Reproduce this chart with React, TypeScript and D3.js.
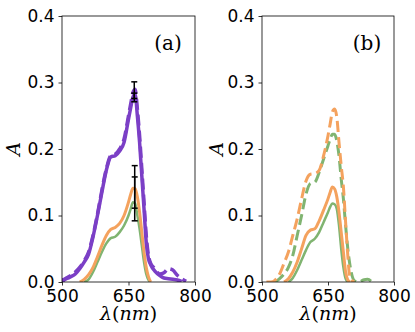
import { useEffect, useRef } from 'react';
import * as d3 from 'd3';

// wavelength grid (nm) shared by every series
const wavelengths = [
  500, 510, 520, 530, 540, 550, 560, 570, 580, 590, 600, 610, 620, 630, 640, 650,
  655, 660, 665, 670, 675, 680, 685, 690, 695, 700, 710, 720, 730, 740, 750, 760,
  770, 780, 790,
];

type V = number | null;

// panel (a)
const aPurpleSolid: V[] = [
  0.003, 0.005, 0.008, 0.012, 0.02, 0.03, 0.042, 0.068, 0.1, 0.135, 0.168, 0.188, 0.19, 0.197, 0.21, 0.245,
  0.262, 0.278, 0.282, 0.25, 0.21, 0.16, 0.11, 0.06, 0.035, 0.026, 0.016, 0.01, 0.006, 0.005, 0.004, 0.003,
  0.001, null, null,
];
const aPurpleDashed: V[] = [
  0.0, 0.006, 0.01, 0.015, 0.022, 0.032, 0.045, 0.07, 0.102, 0.138, 0.17, 0.19, 0.192, 0.2, 0.215, 0.25,
  0.268, 0.285, 0.29, 0.26, 0.22, 0.17, 0.12, 0.07, 0.04, 0.028, 0.02, 0.012, 0.014, 0.02, 0.018, 0.01,
  0.005, 0.001, null,
];
const aOrange: V[] = [
  null, null, null, null, 0, 0.004, 0.011, 0.022, 0.038, 0.055, 0.07, 0.079, 0.082, 0.088, 0.1, 0.12,
  0.132, 0.141, 0.14, 0.128, 0.105, 0.075, 0.045, 0.022, 0.008, 0, null, null, null, null, null, null,
  null, null, null,
];
const aGreen: V[] = [
  null, null, null, null, null, 0, 0.004, 0.015, 0.03, 0.045, 0.058, 0.066, 0.068, 0.075, 0.085, 0.1,
  0.11, 0.12, 0.118, 0.1, 0.08, 0.055, 0.03, 0.012, 0.003, 0, null, null, null, null, null, null,
  null, null, null,
];

// panel (b)
const bOrangeDashed: V[] = [
  null, 0, 0, 0.003, 0.012, 0.028, 0.045, 0.07, 0.095, 0.125, 0.152, 0.162, 0.163, 0.168, 0.19, 0.22,
  0.238, 0.256, 0.26, 0.248, 0.21, 0.175, 0.143, 0.09, 0.04, 0.005, 0, null, null, null, null, null,
  null, null, null,
];
const bGreenDashed: V[] = [
  null, null, null, 0, 0.005, 0.012, 0.022, 0.04, 0.07, 0.1, 0.132, 0.148, 0.15, 0.165, 0.185, 0.205,
  0.215, 0.222, 0.222, 0.212, 0.19, 0.155, 0.125, 0.085, 0.05, 0.025, 0.002, 0, 0.003, 0.004, 0, null,
  null, null, null,
];
const bOrangeSolid: V[] = [
  null, null, null, null, null, 0, 0.005, 0.015, 0.03, 0.05, 0.07, 0.078, 0.08, 0.092, 0.108, 0.125,
  0.135, 0.143, 0.14, 0.128, 0.105, 0.075, 0.045, 0.015, 0.003, 0, null, null, null, null, null, null,
  null, null, null,
];
const bGreenSolid: V[] = [
  null, null, null, null, null, null, 0, 0.006, 0.018, 0.033, 0.048, 0.06, 0.065, 0.075, 0.09, 0.105,
  0.113, 0.118, 0.117, 0.11, 0.085, 0.05, 0.022, 0.005, 0, null, null, null, null, null, null, null,
  null, null, null,
];

// error bars in panel (a): [wavelength, low, high]
const errorBars: [number, number, number][] = [
  [663, 0.271, 0.301],
  [663, 0.276, 0.284],
  [664, 0.092, 0.175],
  [664, 0.111, 0.158],
];

const xTicks = [500, 650, 800];
const yTicks = [0.0, 0.1, 0.2, 0.3, 0.4];

const PURPLE = '#7b3fc6';
const ORANGE = '#f4a25e';
const GREEN = '#80b471';

const App = () => {
  const svgRef = useRef<SVGSVGElement>(null);

  useEffect(() => {
    const root = d3.select(svgRef.current);
    root.selectAll('*').remove();

    const top = 16;
    const bottom = 282;

    const panels = [
      {
        left: 62, right: 195, label: '(a)', ylabelX: 14,
        series: [
          { v: aGreen, color: GREEN, w: 2.5, dash: null },
          { v: aOrange, color: ORANGE, w: 3, dash: null },
          { v: aPurpleDashed, color: PURPLE, w: 3.5, dash: '11,5' },
          { v: aPurpleSolid, color: PURPLE, w: 3.5, dash: null },
        ],
        bars: errorBars,
      },
      {
        left: 262, right: 394, label: '(b)', ylabelX: 217,
        series: [
          { v: bGreenSolid, color: GREEN, w: 2.5, dash: null },
          { v: bOrangeSolid, color: ORANGE, w: 3, dash: null },
          { v: bGreenDashed, color: GREEN, w: 3, dash: '11,5' },
          { v: bOrangeDashed, color: ORANGE, w: 3, dash: '11,5' },
        ],
        bars: [] as [number, number, number][],
      },
    ];

    panels.forEach((p, pi) => {
      const x = d3.scaleLinear().domain([500, 800]).range([p.left, p.right]);
      const y = d3.scaleLinear().domain([0, 0.4]).range([bottom, top]);
      const g = root.append('g');

      const clipId = `clip${pi}`;
      root.append('clipPath').attr('id', clipId)
        .append('rect')
        .attr('x', p.left).attr('y', top)
        .attr('width', p.right - p.left).attr('height', bottom - top);

      const line = d3.line<[number, V]>()
        .defined(d => d[1] != null)
        .x(d => x(d[0]))
        .y(d => y(d[1] as number))
        .curve(d3.curveMonotoneX);

      const lines = g.append('g').attr('clip-path', `url(#${clipId})`);
      p.series.forEach(s => {
        const pts = wavelengths.map((w, i) => [w, s.v[i]] as [number, V]);
        const path = lines.append('path')
          .datum(pts)
          .attr('fill', 'none')
          .attr('stroke', s.color)
          .attr('stroke-width', s.w)
          .attr('stroke-linejoin', 'round')
          .attr('d', line);
        if (s.dash) path.attr('stroke-dasharray', s.dash);
      });

      // error bars
      p.bars.forEach(([wl, lo, hi]) => {
        const cx = x(wl);
        g.append('line')
          .attr('x1', cx).attr('x2', cx)
          .attr('y1', y(lo)).attr('y2', y(hi))
          .attr('stroke', '#000').attr('stroke-width', 1.5);
        [lo, hi].forEach(v => {
          g.append('line')
            .attr('x1', cx - 3).attr('x2', cx + 3)
            .attr('y1', y(v)).attr('y2', y(v))
            .attr('stroke', '#000').attr('stroke-width', 1.5);
        });
      });

      // axes
      const xAxis = g.append('g')
        .attr('transform', `translate(0,${bottom})`)
        .call(d3.axisBottom(x).tickValues(xTicks).tickSize(3.5).tickPadding(4).tickFormat(d3.format('d')));
      const yAxis = g.append('g')
        .attr('transform', `translate(${p.left},0)`)
        .call(d3.axisLeft(y).tickValues(yTicks).tickSize(3.5).tickPadding(4).tickFormat(d3.format('.1f')));
      [xAxis, yAxis].forEach(a => {
        a.select('.domain').remove();
        a.selectAll('line').attr('stroke', '#000').attr('stroke-width', 0.8);
        a.selectAll('text')
          .attr('fill', '#000')
          .style('font-family', '"DejaVu Sans", sans-serif')
          .style('font-size', '17px');
      });
      xAxis.selectAll('text').attr('y', 0).attr('dy', '1.1em').attr('transform', 'translate(0,1)');

      g.append('rect')
        .attr('x', p.left).attr('y', top)
        .attr('width', p.right - p.left).attr('height', bottom - top)
        .attr('fill', 'none').attr('stroke', '#000').attr('stroke-width', 0.8);

      // panel label
      g.append('text')
        .attr('x', p.right - 27).attr('y', 50)
        .attr('text-anchor', 'middle')
        .style('font-family', '"DejaVu Serif", serif')
        .style('font-size', '20px')
        .text(p.label);

      // x label
      const xl = g.append('text')
        .attr('x', (p.left + p.right) / 2).attr('y', 320)
        .attr('text-anchor', 'middle')
        .style('font-family', '"DejaVu Serif", serif')
        .style('font-size', '19px');
      xl.append('tspan').style('font-style', 'italic').text('λ');
      xl.append('tspan').text('(');
      xl.append('tspan').style('font-style', 'italic').text('nm');
      xl.append('tspan').text(')');

      // y label
      g.append('text')
        .attr('transform', `translate(${p.ylabelX + 6},${(top + bottom) / 2}) rotate(-90)`)
        .attr('text-anchor', 'middle')
        .style('font-family', '"DejaVu Serif", serif')
        .style('font-style', 'italic')
        .style('font-size', '19px')
        .text('A');
    });
  }, []);

  return (
    <svg
      ref={svgRef}
      width={415}
      height={332}
      style={{ position: 'absolute', left: 0, top: 0, background: '#fff' }}
    />
  );
};

export default App;
